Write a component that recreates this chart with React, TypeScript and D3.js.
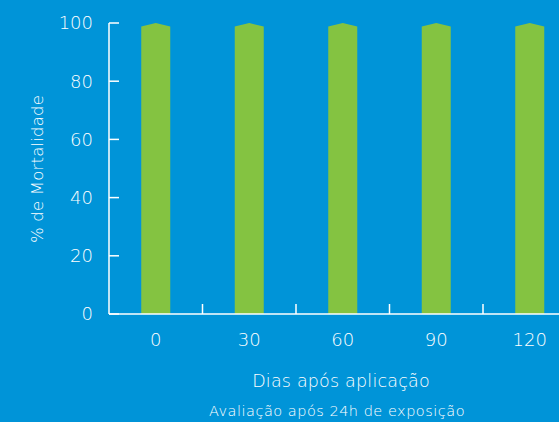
import React from "react";
import * as d3 from "d3";

const categories = ["0", "30", "60", "90", "120"];
const values = [100, 100, 100, 100, 100];
const yTicks = [0, 20, 40, 60, 80, 100];
const yTitle = "% de Mortalidade";
const xTitle = "Dias após aplicação";
const subTitle = "Avaliação após 24h de exposição";

const W = 559;
const H = 422;
const BG = "#0094d8";
const GREEN = "#84c341";
const FONT = "'DejaVu Sans', 'Open Sans', sans-serif";

export default function App() {
  const x0 = 109;
  const band = 93.5;
  const x = d3
    .scaleBand<string>()
    .domain(categories)
    .range([x0, x0 + band * categories.length])
    .paddingInner(0)
    .paddingOuter(0);
  const y = d3.scaleLinear().domain([0, 100]).range([314, 23]);
  const barW = 29;
  const bevel = 3.5;

  return (
    <svg
      width={W}
      height={H}
      style={{ position: "fixed", left: 0, top: 0, display: "block" }}
      fontFamily={FONT}
    >
      <rect x={0} y={0} width={W} height={H} fill={BG} />
      {categories.map((c, i) => {
        const cx = (x(c) as number) + x.bandwidth() / 2;
        const l = cx - barW / 2;
        const r = cx + barW / 2;
        const top = y(values[i]);
        const base = y(0);
        const p = d3.path();
        p.moveTo(l, base);
        p.lineTo(l, top + bevel);
        p.lineTo(cx, top);
        p.lineTo(r, top + bevel);
        p.lineTo(r, base);
        p.closePath();
        return <path key={c} d={p.toString()} fill={GREEN} />;
      })}
      <line x1={x0} x2={x0} y1={y(100)} y2={y(0)} stroke="#fff" strokeWidth={1.5} />
      {yTicks.map((t) => (
        <g key={t}>
          <line x1={x0} x2={x0 + 10} y1={y(t)} y2={y(t)} stroke="#fff" strokeWidth={1.5} />
          <text
            x={93}
            y={y(t)}
            dy="0.36em"
            textAnchor="end"
            fill="#fff"
            fontSize={18}
            fontWeight={200}
          >
            {t}
          </text>
        </g>
      ))}
      <line x1={x0} x2={W} y1={y(0)} y2={y(0)} stroke="#fff" strokeWidth={1.5} />
      {categories.slice(1).map((c) => (
        <line
          key={c}
          x1={x(c) as number}
          x2={x(c) as number}
          y1={y(0)}
          y2={y(0) - 10}
          stroke="#fff"
          strokeWidth={1.5}
        />
      ))}
      {categories.map((c) => (
        <text
          key={c}
          x={(x(c) as number) + x.bandwidth() / 2}
          y={340}
          dy="0.36em"
          textAnchor="middle"
          fill="#fff"
          fontSize={18}
          fontWeight={200}
        >
          {c}
        </text>
      ))}
      <text x={341} y={381} dy="0.36em" textAnchor="middle" fill="#fff" fontSize={17.5} fontWeight={200} letterSpacing={0.2}>
        {xTitle}
      </text>
      <text x={337} y={411} dy="0.36em" textAnchor="middle" fill="#fff" fontSize={14.5} fontWeight={200} letterSpacing={0.5}>
        {subTitle}
      </text>
      <text
        transform={`translate(37,169) rotate(-90)`}
        dy="0.36em"
        textAnchor="middle"
        fill="#fff"
        fontSize={16.5}
        fontWeight={200}
        letterSpacing={0.2}
      >
        {yTitle}
      </text>
    </svg>
  );
}
